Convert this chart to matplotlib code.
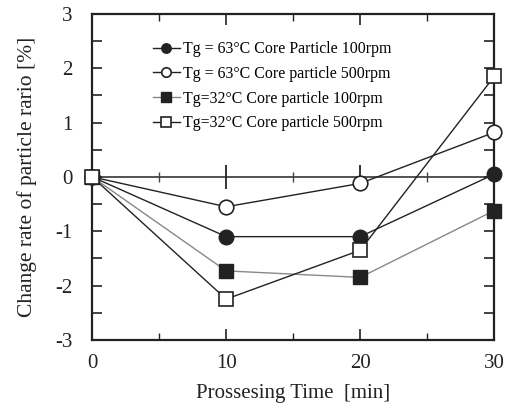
import matplotlib
matplotlib.use("Agg")
import matplotlib.pyplot as plt
from matplotlib.ticker import MultipleLocator

plt.rcParams['font.family'] = ['Liberation Serif', 'DejaVu Serif']
plt.rcParams['mathtext.fontset'] = 'stix'

time = [0, 10, 20, 30]
tg63_100 = [0, -1.1, -1.1, 0.05]
tg63_500 = [0, -0.55, -0.12, 0.82]
tg32_100 = [0, -1.73, -1.85, -0.62]
tg32_500 = [0, -2.25, -1.35, 1.85]
labels = ["Tg = 63\u00b0C Core Particle 100rpm",
          "Tg = 63\u00b0C Core particle 500rpm",
          "Tg=32\u00b0C Core particle 100rpm",
          "Tg=32\u00b0C Core particle 500rpm"]
zero_major = [10, 20]
zero_minor = [5, 15, 25]

fig = plt.figure(figsize=(5.09, 4.09), dpi=100)
ax = fig.add_axes([0.181, 0.169, 0.790, 0.797])

dark = '#222222'
ax.axhline(0, color='#444444', lw=1.3, zorder=1)
ax.plot(zero_major, [0]*len(zero_major), ls='none', marker='|', ms=17, mew=1.3, color='#222222', zorder=1)
ax.plot(zero_minor, [0]*len(zero_minor), ls='none', marker='|', ms=7, mew=1.0, color='#444444', zorder=1)

ax.plot(time, tg63_100, '-o', color=dark, mfc=dark, mec=dark, ms=10.5, lw=1.0, label=labels[0], zorder=3, clip_on=False)
ax.plot(time, tg63_500, '-o', color=dark, mfc='white', mec=dark, ms=10.5, mew=1.2, lw=1.0, label=labels[1], zorder=3, clip_on=False)
ax.plot(time, tg32_100, '-s', color='#888888', mfc=dark, mec=dark, ms=10, lw=1.0, label=labels[2], zorder=3, clip_on=False)
ax.plot(time, tg32_500, '-s', color=dark, mfc='white', mec=dark, ms=10, mew=1.2, lw=1.0, label=labels[3], zorder=4, clip_on=False)

ax.set_xlim(0, 30)
ax.set_ylim(-3, 3)
ax.xaxis.set_major_locator(MultipleLocator(10))
ax.xaxis.set_minor_locator(MultipleLocator(5))
ax.yaxis.set_major_locator(MultipleLocator(1))
ax.yaxis.set_minor_locator(MultipleLocator(0.5))
ax.tick_params(which='both', direction='in', top=True, right=True, colors='#222222', labelcolor='#222222', labelsize=15)
ax.tick_params(axis='x', which='major', length=8, width=1.2, pad=10)
ax.tick_params(axis='x', which='minor', length=5, width=1.0)
ax.tick_params(axis='y', which='both', length=7, width=1.2, pad=14)
ax.set_yticks([-3, -2, -1, 0, 1, 2, 3])
ax.set_yticklabels(["-3", "-2", "-1", "0", "1", "2", "3"])
for s in ax.spines.values():
    s.set_linewidth(1.6)
    s.set_color('#222222')

ax.set_xlabel("Prossesing Time  [min]", fontsize=15, color='#222222', labelpad=8)
ax.set_ylabel("Change rate of particle rario [%]", fontsize=15.5, color='#222222', labelpad=13)

ax.legend(loc='upper left', bbox_to_anchor=(0.115, 0.96), frameon=False, fontsize=11.4,
          markerscale=0.65, handlelength=1.7, handletextpad=0.2, labelspacing=0.55)

fig.savefig("out.png", dpi=100)
